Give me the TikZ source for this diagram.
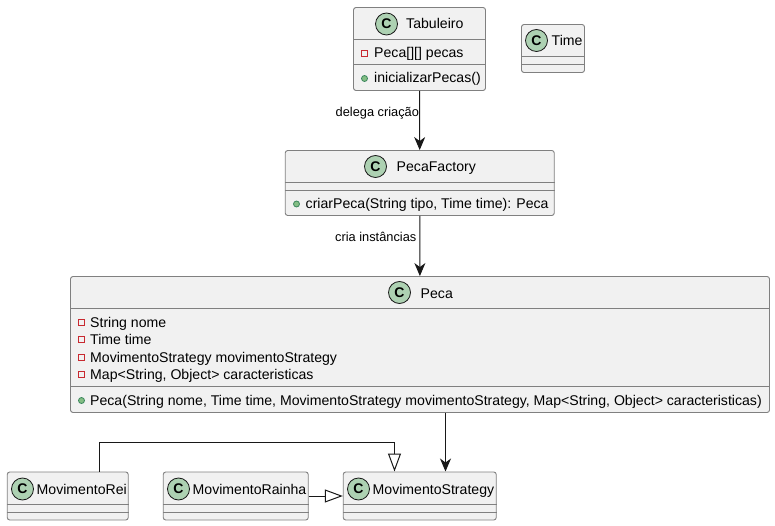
\documentclass[tikz,border=0pt]{standalone}
\usepackage{fontspec}
\setmainfont{Liberation Sans}
\usepackage{tikz}
\usetikzlibrary{arrows.meta}
\definecolor{boxfill}{HTML}{F1F1F1}
\definecolor{boxline}{HTML}{808080}
\definecolor{ink}{HTML}{181818}
\definecolor{spotfill}{HTML}{ADD1B2}
\definecolor{privline}{HTML}{C82930}
\definecolor{publine}{HTML}{38855B}
\definecolor{pubfill}{HTML}{84BE84}
\tikzstyle{block} = [rectangle, draw=boxline, fill=boxfill, line width=.9pt, rounded corners=2.5pt, inner sep=0pt]
\tikzstyle{divider} = [draw=boxline, line width=.9pt]
\tikzstyle{spot} = [circle, draw=ink, fill=spotfill, line width=.8pt, minimum size=22pt, inner sep=0pt, font=\fontsize{14}{16}\selectfont\bfseries]
\tikzstyle{txt} = [anchor=base west, inner sep=0pt, text=black, font=\fontsize{14.1}{16}\selectfont]
\tikzstyle{lbl} = [anchor=base west, inner sep=0pt, text=black, font=\fontsize{12.8}{15}\selectfont]
\tikzstyle{priv} = [rectangle, draw=privline, line width=.8pt, minimum size=6pt, inner sep=0pt]
\tikzstyle{pub} = [circle, draw=publine, fill=pubfill, line width=.8pt, minimum size=6pt, inner sep=0pt]
\tikzstyle{line} = [draw=ink, line width=1pt, -{Stealth[length=13pt, width=11pt, inset=4pt]}]
\tikzstyle{extends} = [draw=ink, line width=1pt, -{Triangle[open, length=18pt, width=13pt, fill=white]}]

\begin{document}
\begin{tikzpicture}[x=1pt, y=-1pt]
    \useasboundingbox (0,0) rectangle (775,526);
    % Place nodes
    \node [block, minimum width=132pt, minimum height=83pt] (tabuleiro) at (419.5,49) {};
    \node [block, minimum width=63pt, minimum height=48pt] (time) at (553,48.5) {};
    \node [block, minimum width=269pt, minimum height=65pt] (factory) at (419.75,183) {};
    \node [block, minimum width=699pt, minimum height=136pt] (peca) at (420,344.5) {};
    \node [block, minimum width=121pt, minimum height=48pt] (rei) at (67.75,496) {};
    \node [block, minimum width=145pt, minimum height=48pt] (rainha) at (235.75,496) {};
    \node [block, minimum width=153pt, minimum height=48pt] (strategy) at (419.75,496) {};
    % Dividers
    \draw [divider] (tabuleiro.west |- 0,39.5) -- (tabuleiro.east |- 0,39.5);
    \draw [divider] (tabuleiro.west |- 0,64) -- (tabuleiro.east |- 0,64);
    \draw [divider] (time.west |- 0,56) -- (time.east |- 0,56);
    \draw [divider] (time.west |- 0,64) -- (time.east |- 0,64);
    \draw [divider] (factory.west |- 0,182) -- (factory.east |- 0,182);
    \draw [divider] (factory.west |- 0,190.5) -- (factory.east |- 0,190.5);
    \draw [divider] (peca.west |- 0,308) -- (peca.east |- 0,308);
    \draw [divider] (peca.west |- 0,386.5) -- (peca.east |- 0,386.5);
    \foreach \cls in {rei, rainha, strategy} {
        \draw [divider] (\cls.west |- 0,504) -- (\cls.east |- 0,504);
        \draw [divider] (\cls.west |- 0,512) -- (\cls.east |- 0,512);
    }
    % Class spots
    \node [spot] (spottab) at (386.5,24) {C};
    \node [spot] (spottime) at (536.5,40.5) {C};
    \node [spot] (spotfac) at (375.5,166.5) {C};
    \node [spot] (spotpeca) at (399.5,292.5) {C};
    \node [spot] (spotrei) at (22.5,489) {C};
    \node [spot] (spotrai) at (178.5,489) {C};
    \node [spot] (spotstr) at (358.5,489) {C};
    % Class names
    \node [txt] (nametab) at (406,29) {Tabuleiro};
    \node [txt] (nametime) at (551.5,46) {Time};
    \node [txt] (namefac) at (396.5,172) {PecaFactory};
    \node [txt] (namepeca) at (420.5,298) {Peca};
    \node [txt] (namerei) at (36.5,494) {MovimentoRei};
    \node [txt] (namerai) at (192.5,494) {MovimentoRainha};
    \node [txt] (namestr) at (372.5,494) {MovimentoStrategy};
    % Members
    \node [priv] (m1) at (364.5,53.5) {};
    \node [txt] (t1) at (374,58) {Peca[][] pecas};
    \node [pub] (m2) at (364.5,78.5) {};
    \node [txt] (t2) at (374,83) {inicializarPecas()};
    \node [pub] (m3) at (296.5,204) {};
    \node [txt] (t3) at (305.5,209) {criarPeca(String tipo, Time time): Peca};
    \node [priv] (m4) at (81.5,322.5) {};
    \node [txt] (t4) at (90,327) {String nome};
    \node [priv] (m5) at (81.5,339.5) {};
    \node [txt] (t5) at (90,344) {Time time};
    \node [priv] (m6) at (81.5,357) {};
    \node [txt] (t6) at (90,362) {MovimentoStrategy movimentoStrategy};
    \node [priv] (m7) at (81.5,374.5) {};
    \node [txt] (t7) at (90,379) {Map<String, Object> caracteristicas};
    \node [pub] (m8) at (81.5,400.5) {};
    \node [txt] (t8) at (90,405) {Peca(String nome, Time time, MovimentoStrategy movimentoStrategy, Map<String, Object> caracteristicas)};
    % Edge labels
    \node [lbl] (dlg) at (335.5,117) {delega criação};
    \node [lbl] (cria) at (335,242) {cria instâncias};
    % Draw edges
    \coordinate (peca out) at (445.5,412.5);
    \coordinate (strategy in) at (445.5,471.5);
    \coordinate (rei out) at (99.5,471.5);
    \coordinate (strategy top) at (394.5,471.5);
    \path [line] (tabuleiro) -- (factory);
    \path [line] (factory) -- (peca);
    \path [line] (peca out) -- (strategy in);
    \path [extends] (rei out) |- (394.5,442.5) -- (strategy top);
    \path [extends] (rainha) -- (strategy);
\end{tikzpicture}
\end{document}
